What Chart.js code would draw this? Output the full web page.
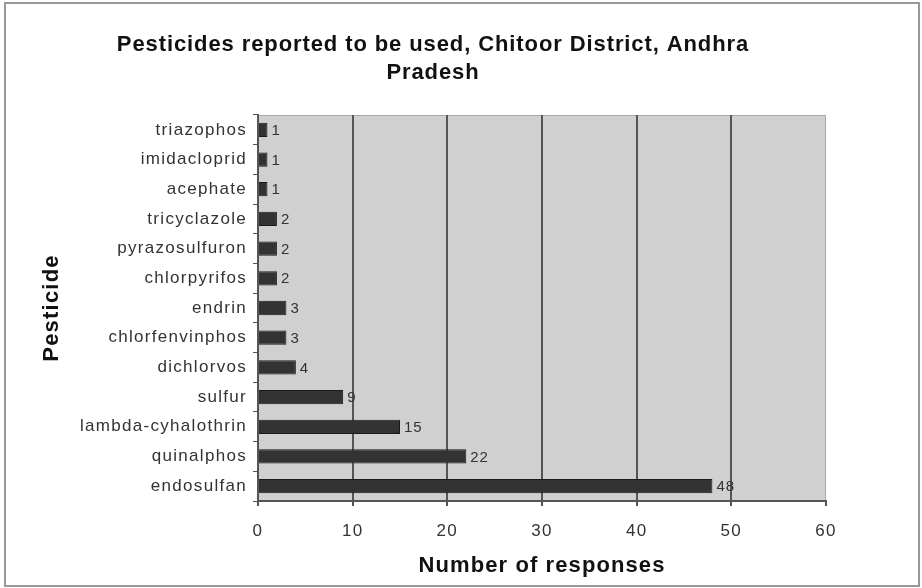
<!DOCTYPE html>
<html>
<head>
<meta charset="utf-8">
<script src="https://cdn.jsdelivr.net/npm/chart.js@4.4.1/dist/chart.umd.min.js"></script>
<style>
  html, body { margin: 0; padding: 0; background: #fff; }
  #wrap { width: 922px; height: 588px; }
</style>
</head>
<body>
<div id="wrap"><canvas id="chart"></canvas></div>
<script>
// data, top to bottom
var pesticides = ['triazophos', 'imidacloprid', 'acephate', 'tricyclazole', 'pyrazosulfuron',
    'chlorpyrifos', 'endrin', 'chlorfenvinphos', 'dichlorvos', 'sulfur',
    'lambda-cyhalothrin', 'quinalphos', 'endosulfan'];
var responses = [1, 1, 1, 2, 2, 2, 3, 3, 4, 9, 15, 22, 48];
var xTicks = [0, 10, 20, 30, 40, 50, 60];

var titleLines = ['Pesticides reported to be used, Chitoor District, Andhra', 'Pradesh'];
var xTitle = 'Number of responses';
var yTitle = 'Pesticide';

var FONT = '"Liberation Sans", Arial, sans-serif';

// grey plot background, outer frame, titles and the value labels
var decorations = {
    id: 'decorations',
    beforeDraw: function(chart) {
        var ctx = chart.ctx;
        var a = chart.chartArea;
        ctx.save();
        ctx.fillStyle = '#d0d0d0';
        ctx.fillRect(a.left, a.top, a.right - a.left, a.bottom - a.top);
        ctx.strokeStyle = '#a8a8a8';
        ctx.lineWidth = 1;
        ctx.strokeRect(a.left + 0.5, a.top + 0.5, a.right - a.left - 1, a.bottom - a.top);
        ctx.restore();
        // tick labels in the picture are spaced out a little
        chart.ctx.letterSpacing = '1.3px';
    },
    afterDraw: function(chart) {
        var ctx = chart.ctx;
        var a = chart.chartArea;
        ctx.save();
        ctx.strokeStyle = '#999';
        ctx.lineWidth = 2;
        ctx.strokeRect(5, 3, 914, 583);

        ctx.fillStyle = '#111';
        ctx.font = 'bold 22px ' + FONT;
        ctx.textAlign = 'center';
        ctx.textBaseline = 'middle';
        ctx.letterSpacing = '0.9px';
        ctx.fillText(titleLines[0], 433, 45);
        ctx.fillText(titleLines[1], 433, 73);

        ctx.letterSpacing = '1.1px';
        ctx.fillText(xTitle, (a.left + a.right) / 2, 566);

        ctx.save();
        ctx.translate(52, (a.top + a.bottom) / 2);
        ctx.rotate(-Math.PI / 2);
        ctx.letterSpacing = '1.2px';
        ctx.fillText(yTitle, 0, 0);
        ctx.restore();

        ctx.letterSpacing = '1px';
        ctx.font = '15px ' + FONT;
        ctx.fillStyle = '#333';
        ctx.textAlign = 'left';
        var meta = chart.getDatasetMeta(0);
        meta.data.forEach(function(bar, i) {
            ctx.fillText(String(responses[i]), bar.x + 4, bar.y + 1);
        });
        ctx.restore();
    }
};

new Chart(document.getElementById('chart'), {
    type: 'bar',
    data: {
        labels: pesticides,
        datasets: [{
            data: responses,
            backgroundColor: '#333333',
            borderColor: '#1a1a1a',
            borderWidth: 1,
            barPercentage: 0.48,
            categoryPercentage: 1
        }]
    },
    options: {
        indexAxis: 'y',
        responsive: true,
        maintainAspectRatio: false,
        animation: false,
        layout: { padding: { top: 115, right: 96, left: 0, bottom: 0 } },
        plugins: {
            legend: { display: false },
            tooltip: { enabled: false }
        },
        scales: {
            x: {
                min: 0,
                max: 60,
                afterBuildTicks: function(scale) {
                    scale.ticks = xTicks.map(function(v) { return { value: v }; });
                },
                afterFit: function(scale) { scale.height = 87; },
                grid: {
                    color: function(c) { return (c.tick && c.tick.value > 0 && c.tick.value < 60) ? '#555' : 'rgba(0,0,0,0)'; },
                    lineWidth: 2,
                    tickLength: 5,
                    tickColor: '#555',
                    drawTicks: true
                },
                border: { display: true, color: '#555', width: 2 },
                ticks: {
                    color: '#333',
                    padding: 15,
                    font: { family: FONT, size: 17 }
                }
            },
            y: {
                afterFit: function(scale) { scale.width = 258; },
                grid: {
                    offset: true,
                    drawOnChartArea: false,
                    tickLength: 5,
                    tickColor: '#555'
                },
                border: { display: true, color: '#555', width: 2 },
                ticks: {
                    color: '#333',
                    padding: 6,
                    font: { family: FONT, size: 17 }
                }
            }
        }
    },
    plugins: [decorations]
});
</script>
</body>
</html>
